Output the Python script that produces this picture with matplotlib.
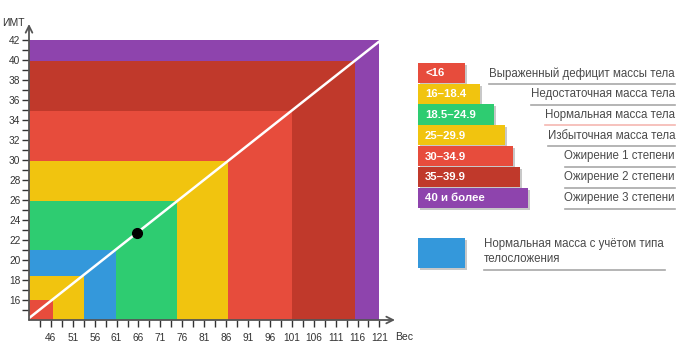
import numpy as np
import matplotlib
matplotlib.use('Agg')
import matplotlib.pyplot as plt
from matplotlib.patches import Rectangle

plt.rcParams['font.family'] = ['Liberation Sans', 'DejaVu Sans']

# chart is built for a height of 1.70 m: BMI = weight / height^2
height_m = 1.70
x0, y0 = 41, 14                      # weight / BMI at the axes origin

# nested zones, drawn from largest to smallest (upper right corner on the line)
zone_weight = [121, 115.4, 101.0, 86.5, 74.9, 60.9, 53.5, 46.4]
zone_bmi = [42.0, 39.9, 34.9, 29.9, 25.9, 21.0, 18.4, 16.0]
zone_color = ['#8e44ad', '#c0392b', '#e74c3c', '#f1c40f', '#2ecc71', '#3498db', '#f1c40f', '#e74c3c']

line_weight = [41, 121]
point_weight = 65.6

y_major = list(range(16, 43, 2))
y_minor = list(range(15, 42, 2))
x_major = list(range(46, 122, 5))
x_minor = list(np.arange(43.5, 120, 5))

legend_ranges = ['<16', '16–18.4', '18.5–24.9', '25–29.9', '30–34.9', '35–39.9', '40 и более']
legend_names = ['Выраженный дефицит массы тела', 'Недостаточная масса тела', 'Нормальная масса тела',
                'Избыточная масса тела', 'Ожирение 1 степени', 'Ожирение 2 степени', 'Ожирение 3 степени']
legend_colors = ['#e74c3c', '#f1c40f', '#2ecc71', '#f1c40f', '#e74c3c', '#c0392b', '#8e44ad']
extra_name = 'Нормальная масса с учётом типа\nтелосложения'
extra_color = '#3498db'

W, H = 680, 353
fig = plt.figure(figsize=(W / 100, H / 100), dpi=100)

# main plot, placed in pixels
left, right, top, bottom = 29, 395, 24, 320
ax = fig.add_axes([left / W, (H - bottom) / H, (right - left) / W, (bottom - top) / H])
ax.set_xlim(x0, x0 + (right - left) / 4.38)
ax.set_ylim(y0, y0 + (bottom - top) / 10.0)

for w, b, c in zip(zone_weight, zone_bmi, zone_color):
    ax.bar(x0, b - y0, width=w - x0, bottom=y0, align='edge', color=c, linewidth=0, zorder=1)

lw = np.array(line_weight, dtype=float)
ax.plot(lw, lw / height_m ** 2, color='white', lw=1.8, zorder=3, solid_capstyle='butt')
ax.plot([point_weight], [point_weight / height_m ** 2], 'o', color='black', ms=7, zorder=4)

for s in ax.spines.values():
    s.set_visible(False)
ax.set_facecolor('none')

axc = '#555555'
ax.annotate('', xy=(ax.get_xlim()[1], y0), xytext=(x0, y0),
            arrowprops=dict(arrowstyle='->', color=axc, lw=1.3, shrinkA=0, shrinkB=0,
                            mutation_scale=12), annotation_clip=False, zorder=5)
ax.annotate('', xy=(x0, ax.get_ylim()[1]), xytext=(x0, y0),
            arrowprops=dict(arrowstyle='->', color=axc, lw=1.3, shrinkA=0, shrinkB=0,
                            mutation_scale=12), annotation_clip=False, zorder=5)

ax.set_yticks(y_major)
ax.set_yticks(y_minor, minor=True)
ax.set_xticks(x_major)
ax.set_xticks(x_minor, minor=True)
ax.tick_params(axis='both', which='both', length=5.2, width=1, color='#333333',
               labelsize=7.3, labelcolor='#333333')
ax.tick_params(axis='y', which='both', pad=1)
ax.tick_params(axis='x', which='both', pad=4.5)

ax.text(-0.073, 1.005, 'ИМТ', transform=ax.transAxes, fontsize=7.5, color='#333333',
        ha='left', va='center')
ax.text(1.0, -0.04, 'Вес', transform=ax.transAxes, fontsize=7.5, color='#333333',
        ha='left', va='top')

# legend drawn on an overlay in pixel coordinates
lg = fig.add_axes([0, 0, 1, 1])
lg.set_xlim(0, W)
lg.set_ylim(H, 0)
lg.axis('off')

box_x, box_top, box_h, pitch = 418, 62.7, 20.2, 20.8
box_w = [47, 62, 76, 87, 95, 102, 110]
text_right = 675
fig.canvas.draw()
renderer = fig.canvas.get_renderer()
for i, (rng, name, col) in enumerate(zip(legend_ranges, legend_names, legend_colors)):
    yt = box_top + i * pitch
    lg.add_patch(Rectangle((box_x + 2, yt + 2), box_w[i], box_h, color='#c8c8c8', lw=0, zorder=1))
    lg.add_patch(Rectangle((box_x, yt), box_w[i], box_h, color=col, lw=0, zorder=2))
    lg.text(box_x + 7, yt + box_h / 2 + 0.5, rng, color='white', fontsize=8.2, fontweight='bold',
            ha='left', va='center', zorder=3)
    t = lg.text(text_right, yt + box_h / 2 + 0.5, name, color='#4a4a4a', fontsize=8.3,
                ha='right', va='center')
    bb = t.get_window_extent(renderer)
    ucol = '#f5b7b1' if i == 2 else '#a8a8a8'
    lg.plot([bb.x0, text_right], [yt + box_h + 0.8] * 2, color=ucol, lw=1.2)

lg.add_patch(Rectangle((box_x + 2, 240.3), 47, 30, color='#c8c8c8', lw=0, zorder=1))
lg.add_patch(Rectangle((box_x, 238.3), 47, 30, color=extra_color, lw=0, zorder=2))
lg.text(484, 251.5, extra_name, color='#4a4a4a', fontsize=8.3, ha='left', va='center',
        linespacing=1.25)
lg.plot([484, 665], [269.5, 269.5], color='#a8a8a8', lw=1.2)

fig.savefig('out.png', dpi=100)
